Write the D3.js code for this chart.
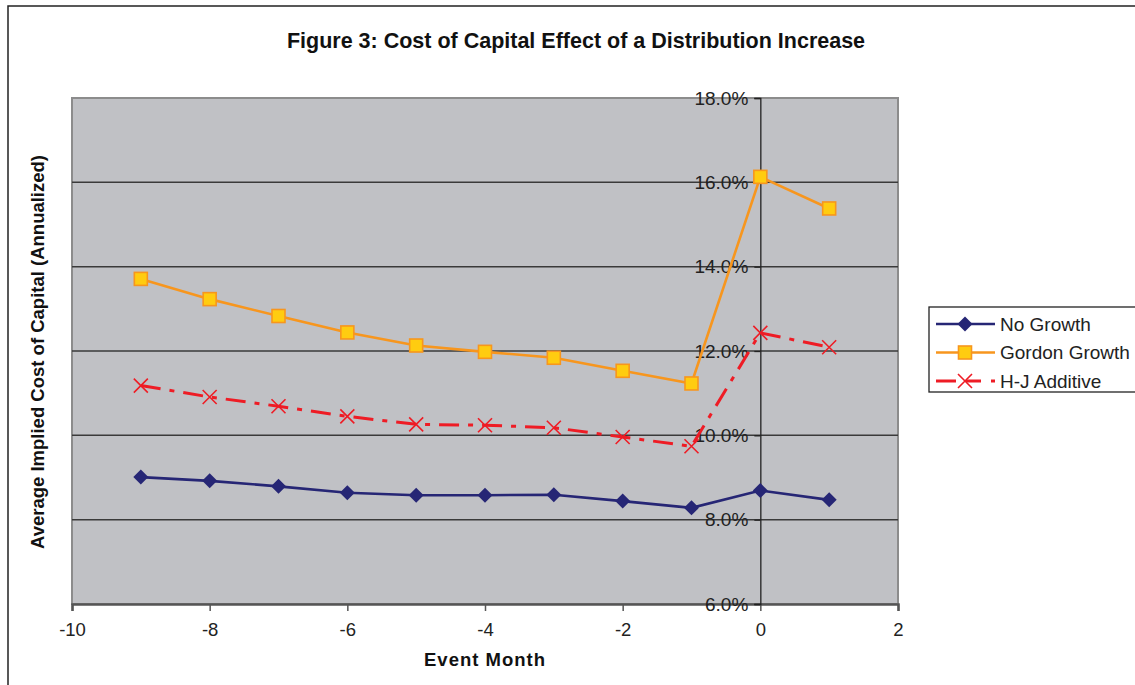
<!DOCTYPE html>
<html>
<head>
<meta charset="utf-8">
<script src="https://cdn.jsdelivr.net/npm/d3@7"></script>
<style>
  html, body { margin: 0; padding: 0; background: #fff; }
  svg { display: block; font-family: Arial, "Liberation Sans", sans-serif; }
</style>
</head>
<body>
<svg id="chart" width="1135" height="685"></svg>
<script>
// Event months relative to the distribution increase
const months = [-9, -8, -7, -6, -5, -4, -3, -2, -1, 0, 1];

// Average implied cost of capital (annualized, %) for each model
const noGrowth     = [9.01, 8.92, 8.79, 8.64, 8.58, 8.58, 8.59, 8.44, 8.28, 8.69, 8.47];
const gordonGrowth = [13.71, 13.23, 12.83, 12.44, 12.13, 11.98, 11.84, 11.53, 11.23, 16.13, 15.38];
const hjAdditive   = [11.18, 10.91, 10.69, 10.45, 10.26, 10.24, 10.18, 9.96, 9.74, 12.43, 12.09];

const seriesNames = ["No Growth", "Gordon Growth", "H-J Additive"];
const xTicks = [-10, -8, -6, -4, -2, 0, 2];
const yTicks = [6, 8, 10, 12, 14, 16, 18];

const svg = d3.select("#chart");
const plot = { left: 72, right: 898, top: 98, bottom: 604 };

const x = d3.scaleLinear().domain([-10, 2]).range([plot.left, plot.right]);
const y = d3.scaleLinear().domain([6, 18]).range([plot.bottom, plot.top]);

const FONT = "Arial, 'Liberation Sans', sans-serif";

// Outer chart frame
svg.append("rect")
  .attr("x", 8).attr("y", 6).attr("width", 1140).attr("height", 700)
  .attr("fill", "#fff").attr("stroke", "#222").attr("stroke-width", 1.5);

// Title
svg.append("text")
  .attr("x", 576).attr("y", 48)
  .attr("text-anchor", "middle")
  .attr("font-size", 21.5).attr("font-weight", "bold").attr("fill", "#111")
  .text("Figure 3: Cost of Capital Effect of a Distribution Increase");

// Plot area background
svg.append("rect")
  .attr("x", plot.left).attr("y", plot.top)
  .attr("width", plot.right - plot.left).attr("height", plot.bottom - plot.top)
  .attr("fill", "#c0c1c5").attr("stroke", "#8c8c8c").attr("stroke-width", 2);

// Horizontal gridlines
svg.append("g")
  .selectAll("line")
  .data(yTicks.filter(t => t > 6 && t < 18))
  .join("line")
  .attr("x1", plot.left).attr("x2", plot.right)
  .attr("y1", d => y(d)).attr("y2", d => y(d))
  .attr("stroke", "#3a3a3a").attr("stroke-width", 1.5);

// X axis along the bottom
const xAxis = svg.append("g")
  .attr("transform", `translate(0,${plot.bottom})`)
  .call(d3.axisBottom(x).tickValues(xTicks).tickSize(7).tickPadding(12).tickFormat(d3.format("d")));
xAxis.select(".domain").attr("stroke", "#555").attr("stroke-width", 2.5);
xAxis.selectAll(".tick line").attr("stroke", "#555").attr("stroke-width", 1.5);
xAxis.selectAll(".tick text")
  .attr("font-size", 18.5).attr("fill", "#222")
  .attr("font-family", FONT)
  .text(d => d < 0 ? "-" + Math.abs(d) : String(d));

// Y axis crossing at month 0
const yAxis = svg.append("g")
  .attr("transform", `translate(${x(0)},0)`)
  .call(d3.axisLeft(y).tickValues(yTicks).tickSize(6).tickPadding(6)
    .tickFormat(d => d.toFixed(1) + "%"));
yAxis.select(".domain").attr("stroke", "#222").attr("stroke-width", 1.3);
yAxis.selectAll(".tick line").attr("stroke", "#222").attr("stroke-width", 1.3);
yAxis.selectAll(".tick text")
  .attr("font-size", 19).attr("fill", "#222")
  .attr("font-family", FONT);

// Axis titles
svg.append("text")
  .attr("x", (plot.left + plot.right) / 2).attr("y", 666)
  .attr("text-anchor", "middle")
  .attr("font-size", 18.5).attr("font-weight", "bold").attr("fill", "#111")
  .attr("letter-spacing", 1)
  .text("Event Month");

svg.append("text")
  .attr("transform", `translate(44,${(plot.top + plot.bottom) / 2 + 1}) rotate(-90)`)
  .attr("text-anchor", "middle")
  .attr("font-size", 18.5).attr("font-weight", "bold").attr("fill", "#111")
  .text("Average Implied Cost of Capital (Annualized)");

// Series styles
const styles = [
  { values: noGrowth, color: "#262675", width: 2.6, dash: null, marker: "diamond" },
  { values: gordonGrowth, color: "#f7961e", width: 2.6, dash: null, marker: "square" },
  { values: hjAdditive, color: "#ee1c25", width: 3, dash: "20,9,5,9", marker: "cross" }
];

const line = d3.line().x(d => x(d.m)).y(d => y(d.v));

function drawMarker(g, kind, cx, cy, color) {
  if (kind === "diamond") {
    g.append("path")
      .attr("d", `M${cx},${cy - 7.5}L${cx + 7.5},${cy}L${cx},${cy + 7.5}L${cx - 7.5},${cy}Z`)
      .attr("fill", color);
  } else if (kind === "square") {
    g.append("rect")
      .attr("x", cx - 6.5).attr("y", cy - 6.5).attr("width", 13).attr("height", 13)
      .attr("fill", "#ffcc10").attr("stroke", color).attr("stroke-width", 1.6);
  } else {
    g.append("path")
      .attr("d", `M${cx - 7},${cy - 7}L${cx + 7},${cy + 7}M${cx - 7},${cy + 7}L${cx + 7},${cy - 7}`)
      .attr("stroke", color).attr("stroke-width", 1.6).attr("fill", "none");
  }
}

styles.forEach((s, i) => {
  const pts = months.map((m, j) => ({ m, v: s.values[j] }));
  const g = svg.append("g");
  g.append("path")
    .datum(pts)
    .attr("d", line)
    .attr("fill", "none")
    .attr("stroke", s.color)
    .attr("stroke-width", s.width)
    .attr("stroke-dasharray", s.dash);
  pts.forEach(p => drawMarker(g, s.marker, x(p.m), y(p.v), s.color));
});

// Legend
const legend = svg.append("g");
legend.append("rect")
  .attr("x", 929).attr("y", 307).attr("width", 220).attr("height", 85)
  .attr("fill", "#fff").attr("stroke", "#222").attr("stroke-width", 1.3);

styles.forEach((s, i) => {
  const ly = 324 + i * 28.5;
  legend.append("line")
    .attr("x1", 936).attr("x2", 995).attr("y1", ly).attr("y2", ly)
    .attr("stroke", s.color).attr("stroke-width", s.width)
    .attr("stroke-dasharray", s.dash ? "20,10,15,10" : null);
  drawMarker(legend, s.marker, 965, ly, s.color);
  legend.append("text")
    .attr("x", 1000).attr("y", ly + 6.5)
    .attr("font-size", 19).attr("fill", "#222")
    .text(seriesNames[i]);
});
</script>
</body>
</html>
